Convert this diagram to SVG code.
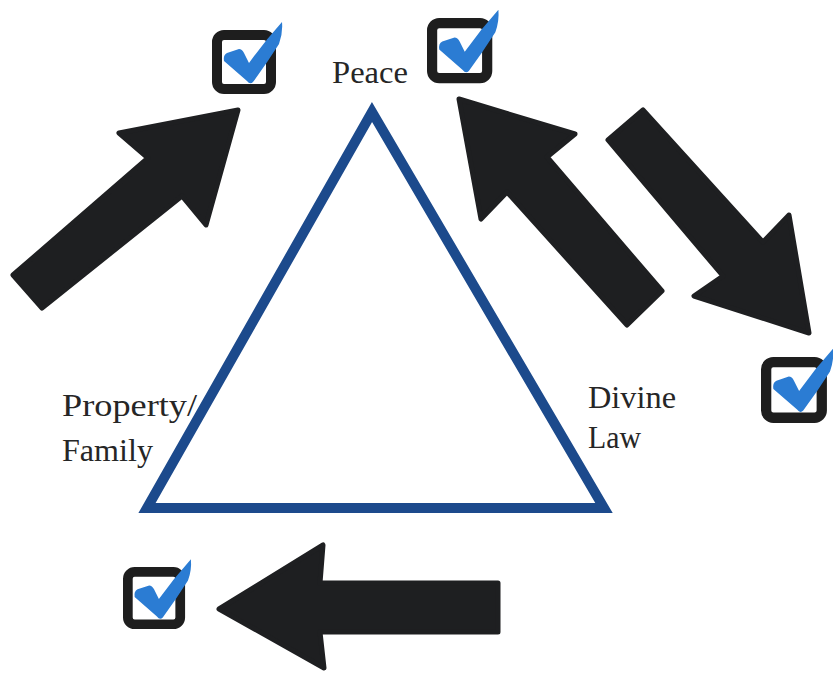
<svg xmlns="http://www.w3.org/2000/svg" xmlns:xlink="http://www.w3.org/1999/xlink" width="833" height="674" viewBox="0 0 833 674">
  <style>
    .lbl { font-family: "Liberation Serif", "Times New Roman", serif; font-size: 32px; fill: #262626; }
    .arrow { fill: #1e1f21; stroke: #1e1f21; stroke-width: 5; stroke-linejoin: round; }
    .tri { fill: none; stroke: #1c4a8c; stroke-width: 10; stroke-linejoin: miter; }
    .box { fill: #ffffff; stroke: #1e1e1e; stroke-width: 10; }
    .tick { fill: #2b7cd3; }
  </style>
  <defs>
    <symbol id="checkbox" overflow="visible">
      <rect class="box" x="5" y="5" width="54" height="54" rx="7"/>
      <path class="tick" d="M12,31 Q11,25 15,23 L27,19 Q30,19 32,23 L37,33 Q52,12 70,-8 Q71,3 67,14 Q55,33 41,52 Q38,55 35,51 Z"/>
    </symbol>
  </defs>
  <rect width="833" height="674" fill="#ffffff"/>

  <g id="triangle">
    <polygon class="tri" points="372,112 147,508 604,508"/>
  </g>

  <g id="label-peace"><text class="lbl" x="332" y="83" textLength="76" lengthAdjust="spacingAndGlyphs">Peace</text></g>
  <g id="label-property">
    <text class="lbl" x="62" y="416" textLength="135" lengthAdjust="spacingAndGlyphs">Property/</text>
    <text class="lbl" x="62" y="461" textLength="91" lengthAdjust="spacingAndGlyphs">Family</text>
  </g>
  <g id="label-divine">
    <text class="lbl" x="588" y="408" textLength="88" lengthAdjust="spacingAndGlyphs">Divine</text>
    <text class="lbl" x="588" y="448" textLength="53" lengthAdjust="spacingAndGlyphs">Law</text>
  </g>

  <g id="check-1"><use xlink:href="#checkbox" href="#checkbox" transform="translate(212,30)"/></g>
  <g id="check-2"><use xlink:href="#checkbox" href="#checkbox" transform="translate(427,18) scale(1.02)"/></g>
  <g id="check-3"><use xlink:href="#checkbox" href="#checkbox" transform="translate(761,357) scale(1.03)"/></g>
  <g id="check-4"><use xlink:href="#checkbox" href="#checkbox" transform="translate(123,567) scale(0.97)"/></g>

  <g id="connectors">
    <polygon class="arrow" points="13,275 148,158 119,133 238,110 206,225 182,196 42,308"/>
    <polygon class="arrow" points="459,99 575,134 547,157 662,291 627,325 507,192 481,219"/>
    <polygon class="arrow" points="643,110 608,140 723,276 694,296 809,333 789,215 763,242"/>
    <polygon class="arrow" points="219,609 323,545 320,583 498,583 498,632 320,632 324,668"/>
  </g>
</svg>
